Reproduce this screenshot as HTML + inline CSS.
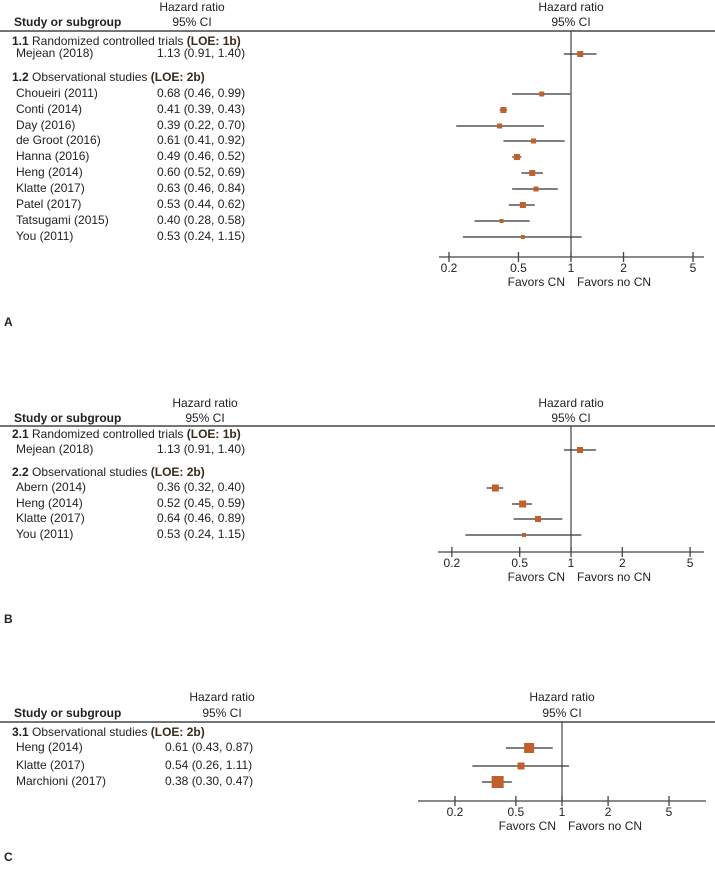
<!DOCTYPE html>
<html><head><meta charset="utf-8">
<style>
html,body{margin:0;padding:0;background:#fff;}
svg{display:block;font-family:"Liberation Sans",sans-serif;}
text{fill:#222;font-size:12px;}
.b{font-weight:bold;}
</style></head>
<body>
<svg id="chart" width="715" height="875" viewBox="0 0 715 875"></svg>
<script>
// Panel A data
const studiesA = ["Mejean (2018)","Choueiri (2011)","Conti (2014)","Day (2016)","de Groot (2016)","Hanna (2016)","Heng (2014)","Klatte (2017)","Patel (2017)","Tatsugami (2015)","You (2011)"];
const hrA = [1.13,0.68,0.41,0.39,0.61,0.49,0.60,0.63,0.53,0.40,0.53];
const loA = [0.91,0.46,0.39,0.22,0.41,0.46,0.52,0.46,0.44,0.28,0.24];
const hiA = [1.40,0.99,0.43,0.70,0.92,0.52,0.69,0.84,0.62,0.58,1.15];
const sizeA = [6,5,6,5,5,6,6,5,6,4,4];
const rowsA = [54,94,110,126,141,157,173,189,205,221,237];
// Panel B data
const studiesB = ["Mejean (2018)","Abern (2014)","Heng (2014)","Klatte (2017)","You (2011)"];
const hrB = [1.13,0.36,0.52,0.64,0.53];
const loB = [0.91,0.32,0.45,0.46,0.24];
const hiB = [1.40,0.40,0.59,0.89,1.15];
const sizeB = [6,7,7,6,4];
const rowsB = [450,488,504,519,535];
// Panel C data
const studiesC = ["Heng (2014)","Klatte (2017)","Marchioni (2017)"];
const hrC = [0.61,0.54,0.38];
const loC = [0.43,0.26,0.30];
const hiC = [0.87,1.11,0.47];
const sizeC = [10,7,12];
const rowsC = [748,766,782];
const tickVals = [0.2,0.5,1,2,5];
const tickLabels = ["0.2","0.5","1","2","5"];

const NS="http://www.w3.org/2000/svg";
const svg=document.getElementById('chart');
function el(tag,attrs,parent){const e=document.createElementNS(NS,tag);for(const k in attrs)e.setAttribute(k,attrs[k]);(parent||svg).appendChild(e);return e;}
function txt(x,y,s,parent,anchor,cls){const t=el('text',{x:x,y:y,'text-anchor':anchor||'start','dominant-baseline':'middle'},parent);if(cls)t.setAttribute('class',cls);t.textContent=s;return t;}
function fmt(v){return v.toFixed(2);}

function panel(cfg){
  const g=el('g',{});
  
  
  const xs=v=>cfg.x1+Math.log(v)*cfg.k;
  let t=txt(cfg.hcx,cfg.hy1,"Hazard  ratio",g,'middle');
  
  txt(cfg.hcx,cfg.hy2,"95% CI",g,'middle');
  t=txt(14,cfg.hy2,"Study or subgroup",g,'start','b');
  
  t=txt(cfg.x1,cfg.hy1,"Hazard  ratio",g,'middle');
  
  txt(cfg.x1,cfg.hy2,"95% CI",g,'middle');
  let ln=el('line',{x1:0,x2:715,y1:cfg.line,y2:cfg.line,stroke:'#222','stroke-width':1.3},g);
  
  cfg.groups.forEach(gr=>{
    const tt=el('text',{x:12,y:gr.y,'dominant-baseline':'middle'},g);
    
    const a=el('tspan',{'font-weight':'bold'},tt);a.textContent=gr.num+" ";
    const b=el('tspan',{},tt);b.textContent=gr.label+" ";
    const c=el('tspan',{'font-weight':'bold',fill:'#3a2a1a'},tt);c.textContent=gr.loe;
  });
  ln=el('line',{x1:xs(1),x2:xs(1),y1:cfg.line,y2:cfg.axis,stroke:'#444','stroke-width':1.2},g);
  
  cfg.studies.forEach((s,i)=>{
    const y=cfg.rows[i];
    let r=txt(16,y,s,g);
    
    r=txt(cfg.cix,y,fmt(cfg.hr[i])+" ("+fmt(cfg.lo[i])+", "+fmt(cfg.hi[i])+")",g);
    
    const w=el('line',{x1:xs(cfg.lo[i]),x2:xs(cfg.hi[i]),y1:y,y2:y,stroke:'#333','stroke-width':1.2},g);
    
    const sz=cfg.size[i];
    const m=el('rect',{x:xs(cfg.hr[i])-sz/2,y:y-sz/2,width:sz,height:sz,fill:'#c0602a'},g);
    
  });
  ln=el('line',{x1:cfg.ax0,x2:cfg.ax1,y1:cfg.axis,y2:cfg.axis,stroke:'#444','stroke-width':1.3},g);
  
  tickVals.forEach((v,i)=>{
    const tk=el('line',{x1:xs(v),x2:xs(v),y1:cfg.axis-5,y2:cfg.axis+5,stroke:'#444','stroke-width':1.3},g);
    
    const tl=txt(xs(v),cfg.axis+12,tickLabels[i],g,'middle');
    
  });
  let f=txt(xs(1)-6,cfg.axis+26,"Favors CN",g,'end');
  
  f=txt(xs(1)+6,cfg.axis+26,"Favors no CN",g,'start');
  
  f=txt(4,cfg.letterY,cfg.letter,g,'start','b');
  f.setAttribute('font-size','14');
  
}

panel({name:'panel-a',x1:571,k:75.8,hcx:192,cix:157,hy1:8,hy2:23,line:31,axis:257,ax0:439,ax1:704,
  studies:studiesA,hr:hrA,lo:loA,hi:hiA,size:sizeA,rows:rowsA,letter:'A',letterY:323,
  groups:[{y:42,num:'1.1',label:'Randomized controlled trials',loe:'(LOE: 1b)'},{y:78,num:'1.2',label:'Observational studies',loe:'(LOE: 2b)'}]});
panel({name:'panel-b',x1:571,k:74,hcx:205,cix:157,hy1:404,hy2:419,line:426,axis:552,ax0:438,ax1:704,
  studies:studiesB,hr:hrB,lo:loB,hi:hiB,size:sizeB,rows:rowsB,letter:'B',letterY:620,
  groups:[{y:435,num:'2.1',label:'Randomized controlled trials',loe:'(LOE: 1b)'},{y:473,num:'2.2',label:'Observational studies',loe:'(LOE: 2b)'}]});
panel({name:'panel-c',x1:562,k:66.5,hcx:222,cix:165,hy1:698,hy2:714,line:722,axis:801,ax0:418,ax1:706,
  studies:studiesC,hr:hrC,lo:loC,hi:hiC,size:sizeC,rows:rowsC,letter:'C',letterY:858,
  groups:[{y:733,num:'3.1',label:'Observational studies',loe:'(LOE: 2b)'}]});
</script>
</body></html>
